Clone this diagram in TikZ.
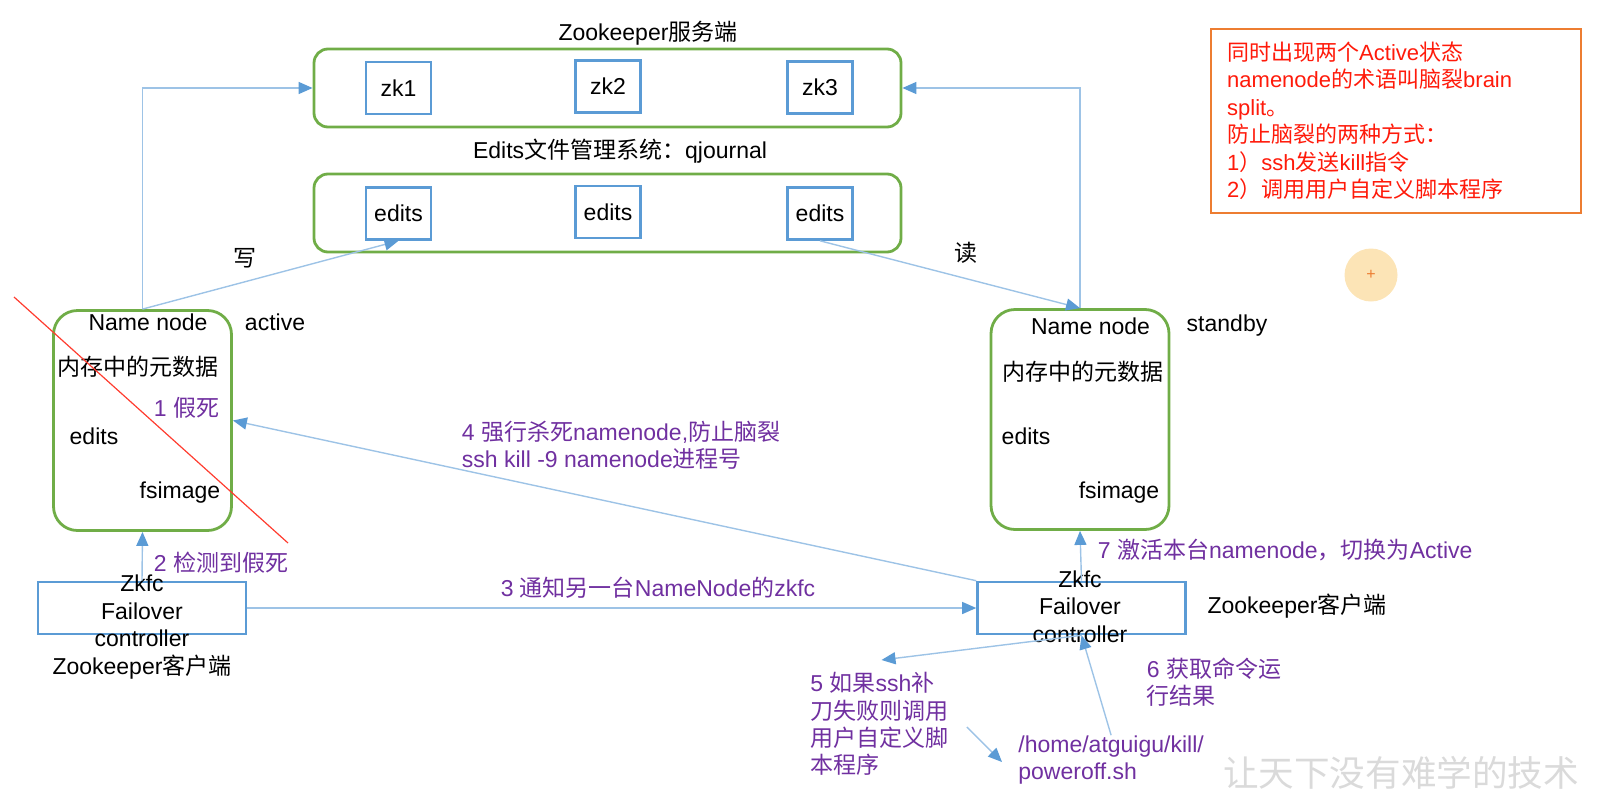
\documentclass[tikz,border=0pt]{standalone}
\usepackage{fontspec}
\setmainfont{Liberation Sans}
\newfontfamily\cjk{Noto Sans CJK SC}
\usepackage{tikz}
\usetikzlibrary{arrows.meta,positioning}
\definecolor{leaf}{HTML}{70AD47}
\definecolor{sky}{HTML}{5B9BD5}
\definecolor{wire}{HTML}{9DC3E6}
\definecolor{plum}{HTML}{7030A0}
\definecolor{alarm}{HTML}{FF1A0A}
\definecolor{amber}{HTML}{ED7D31}
\definecolor{peach}{HTML}{FCE4B6}
\definecolor{ghost}{HTML}{DADADA}

\begin{document}
\begin{tikzpicture}[x=0.5pt,y=-0.5pt,
  txt/.style={inner sep=0pt,font=\fontsize{11.5}{13.7}\selectfont},
  note/.style={txt,text=plum,align=left},
  grp/.style={draw=leaf,line width=1.4pt,rounded corners=7pt,minimum width=293.5pt,minimum height=39pt},
  cell/.style={txt,draw=sky,line width=1.3pt,minimum width=32.5pt,minimum height=26pt},
  nnbox/.style={draw=leaf,line width=1.4pt,rounded corners=12pt,minimum width=89pt,minimum height=110pt},
  fcbox/.style={draw=sky,line width=1.3pt,minimum width=104pt,minimum height=26pt},
  arr/.style={-{Triangle[length=7pt,width=6pt,color=sky]},wire,line width=0.7pt}]
\useasboundingbox (0,0) rectangle (1598,803);
\node[txt] (zktitle) at (648,33) {Zookeeper{\cjk 服务端}};
\node[grp] (zkgrp) at (607.5,88) {};
\node[cell] (zk1) at (398.5,88) {zk1};
\node[cell] (zk2) at (608,86.5) {zk2};
\node[cell] (zk3) at (820,87.5) {zk3};
\node[txt] (edtitle) at (620,151) {Edits{\cjk 文件管理系统：}qjournal};
\node[grp] (edgrp) at (607.5,213) {};
\node[cell] (ed1) at (398.5,213.5) {edits};
\node[cell] (ed2) at (608,212) {edits};
\node[cell] (ed3) at (820,213.5) {edits};
\node[txt] (write) at (245,258) {\cjk 写};
\node[txt] (read) at (966,253) {\cjk 读};

\node[nnbox] (nnL) at (142.5,420.5) {};
\node[txt] (nnLname) at (148,322) {Name node};
\node[txt] (nnLstate) at (275,322) {active};
\node[txt] (nnLmeta) at (138,367) {\cjk 内存中的元数据};
\node[note] (s1) at (186.5,408) {1 {\cjk 假死}};
\node[txt] (nnLedits) at (94,436) {edits};
\node[txt] (nnLfs) at (180,493) {fsimage};
\draw[alarm!85,line width=0.6pt] (14,297) -- (288,543);
\node[fcbox] (fcL) at (142,608) {};
\node[txt,align=center] (fcLtxt) at (142,627) {Zkfc\\Failover\\controller\\Zookeeper{\cjk 客户端}};
\node[note] (s2) at (221,562.5) {2 {\cjk 检测到假死}};

\node[nnbox] (nnR) at (1080,419.5) {};
\node[txt] (nnRname) at (1090.5,326) {Name node};
\node[txt] (nnRstate) at (1227,326) {standby};
\node[txt] (nnRmeta) at (1083,372) {\cjk 内存中的元数据};
\node[txt] (nnRedits) at (1026,436) {edits};
\node[txt] (nnRfs) at (1119,493) {fsimage};
\node[fcbox] (fcR) at (1081.5,608) {};
\node[txt,align=center] (fcRtxt) at (1080,606.5) {Zkfc\\Failover\\controller};
\node[txt] (fcRrole) at (1297,606) {Zookeeper{\cjk 客户端}};
\node[note,anchor=west] (s7) at (1097.5,550) {7 {\cjk 激活本台}namenode{\cjk ，切换为}Active};

\node[note] (s3) at (658,588) {3 {\cjk 通知另一台}NameNode{\cjk 的}zkfc};
\node[note,anchor=west] (s4) at (461.5,445) {4 {\cjk 强行杀死}namenode,{\cjk 防止脑裂}\\ssh kill -9 namenode{\cjk 进程号}};
\node[note,anchor=west] (s5) at (810,724) {5 {\cjk 如果}ssh{\cjk 补}\\{\cjk 刀失败则调用}\\{\cjk 用户自定义脚}\\{\cjk 本程序}};
\node[note,anchor=west] (s6) at (1146.5,682) {6 {\cjk 获取命令运}\\{\cjk 行结果}};
\node[note,anchor=west] (scr) at (1018,760) {/home/atguigu/kill/\\poweroff.sh};
\coordinate (tip5) at (881.5,660);

\node[draw=amber,line width=1.2pt,text=alarm,align=left,anchor=north west,minimum width=185pt,minimum height=92pt,text width=169pt,inner xsep=8pt,font=\fontsize{11}{13.7}\selectfont] (rule) at (1210,27.5) {{\cjk 同时出现两个}Active{\cjk 状态}\\namenode{\cjk 的术语叫脑裂}brain\\split{\cjk 。}\\{\cjk 防止脑裂的两种方式：}\\1{\cjk ）}ssh{\cjk 发送}kill{\cjk 指令}\\2{\cjk ）调用用户自定义脚本程序}};
\node[circle,fill=peach,minimum size=26.5pt,inner sep=0pt,text=amber,font=\fontsize{8}{8}\selectfont] (dot) at (1371,275) {+};
\node[text=ghost,inner sep=0pt,font=\cjk\fontsize{17.8}{18}\selectfont] (mark) at (1401,773) {让天下没有难学的技术};

\draw[arr] (nnL.north) |- (zkgrp.west);
\draw[arr] (nnR.north) |- (zkgrp.east);
\draw[arr] (nnL.north) -- (ed1.south);
\draw[arr] (ed3.south) -- (nnR.north);
\foreach \a/\b in {fcL.north/nnL.south,fcR.north/nnR.south,fcL.east/fcR.west,fcR.north west/nnL.east,fcR.south/tip5,scr.north/fcR.south}
  \draw[arr] (\a) -- (\b);
\draw[arr] ([shift={(18,3)}]s5.east) -- ([xshift=-8pt,yshift=-1pt]scr.west);
\end{tikzpicture}
\end{document}
